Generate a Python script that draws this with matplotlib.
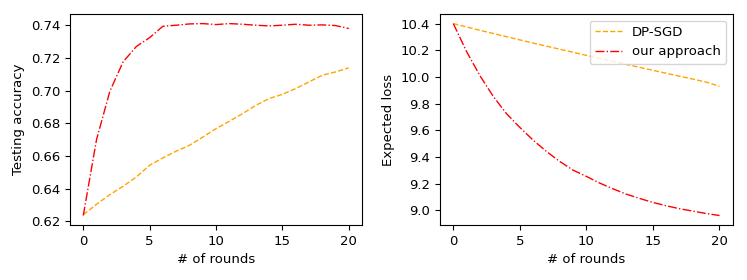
import matplotlib
matplotlib.use("Agg")
import matplotlib.pyplot as plt

rounds = list(range(21))

acc_dpsgd = [0.6240, 0.6304, 0.6363, 0.6414, 0.6471, 0.6543, 0.6588, 0.6629,
             0.6665, 0.6715, 0.6767, 0.6812, 0.6859, 0.6910, 0.6951, 0.6977,
             0.7012, 0.7053, 0.7094, 0.7114, 0.7139]
acc_ours = [0.6235, 0.6700, 0.6995, 0.7176, 0.7270, 0.7324, 0.7394, 0.7400,
            0.7408, 0.7410, 0.7404, 0.7410, 0.7406, 0.7400, 0.7396, 0.7400,
            0.7406, 0.7400, 0.7402, 0.7398, 0.7380]

loss_dpsgd = [10.400, 10.375, 10.350, 10.326, 10.302, 10.278, 10.254, 10.231,
              10.208, 10.185, 10.162, 10.139, 10.116, 10.094, 10.072, 10.050,
              10.028, 10.006, 9.984, 9.962, 9.930]
loss_ours = [10.400, 10.190, 10.010, 9.855, 9.725, 9.622, 9.527, 9.442,
             9.367, 9.302, 9.255, 9.205, 9.162, 9.122, 9.090, 9.060,
             9.035, 9.013, 8.995, 8.977, 8.962]

labels = ["DP-SGD", "our approach"]
xlabel = "# of rounds"

fig = plt.figure(figsize=(7.47, 2.8), dpi=100)
ax1 = fig.add_axes([0.0937, 0.196, 0.391, 0.754])
ax2 = fig.add_axes([0.589, 0.196, 0.392, 0.754])

for ax in (ax1, ax2):
    for s in ax.spines.values():
        s.set_linewidth(0.8)
    ax.tick_params(labelsize=9.5, width=0.8, length=3.5)

ax1.plot(rounds, acc_dpsgd, color="orange", linestyle="--", linewidth=1.0, label=labels[0])
ax1.plot(rounds, acc_ours, color="red", linestyle="-.", linewidth=1.0, label=labels[1])
ax1.set_xlabel(xlabel, fontsize=9.5)
ax1.set_ylabel("Testing accuracy", fontsize=9.5)
ax1.set_yticks([0.62, 0.64, 0.66, 0.68, 0.70, 0.72, 0.74])
ax1.set_xticks([0, 5, 10, 15, 20])

ax2.plot(rounds, loss_dpsgd, color="orange", linestyle="--", linewidth=1.0, label=labels[0])
ax2.plot(rounds, loss_ours, color="red", linestyle="-.", linewidth=1.0, label=labels[1])
ax2.set_xlabel(xlabel, fontsize=9.5)
ax2.set_ylabel("Expected loss", fontsize=9.5)
ax2.set_yticks([9.0, 9.2, 9.4, 9.6, 9.8, 10.0, 10.2, 10.4])
ax2.set_xticks([0, 5, 10, 15, 20])
ax2.legend(loc="upper right", fontsize=9.5)

fig.savefig("out.png", dpi=100)
